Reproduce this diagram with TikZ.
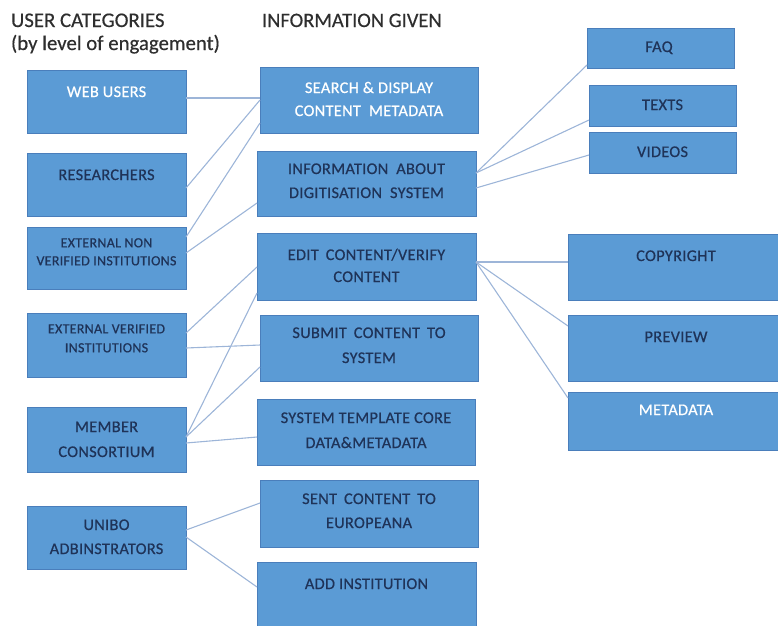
\documentclass[tikz,border=0pt]{standalone}
\usepackage{fontspec}
\setmainfont{Carlito}
\newfontfamily\boxfont[FakeBold=0.6, LetterSpace=2]{Carlito}
\newfontfamily\headfont[FakeBold=0.4]{Carlito}
\definecolor{boxfill}{HTML}{5B9BD5}
\definecolor{boxedge}{HTML}{4A7EBB}
\definecolor{linkc}{HTML}{9DB5D8}
\definecolor{darktxt}{HTML}{1F3358}
\definecolor{headtxt}{HTML}{2E2E2E}
\begin{document}
\begin{tikzpicture}[x=1pt,y=-1pt,
  box/.style={rectangle, draw=boxedge, fill=boxfill, line width=1pt, inner sep=0pt, outer sep=0pt},
  link/.style={draw=linkc, line width=1.1pt},
  lbl/.style={inner sep=0pt, outer sep=0pt, anchor=base, text=darktxt, font=\boxfont\fontsize{16.3}{18}\selectfont},
  wlbl/.style={lbl, text=white},
  slbl/.style={lbl, font=\boxfont\fontsize{14}{16}\selectfont},
  head/.style={inner sep=0pt, outer sep=0pt, anchor=base west, text=headtxt, font=\headfont\fontsize{20.8}{24}\selectfont}]
\useasboundingbox (0,0) rectangle (778,625);

% headers
\node[head] (h1) at (11,27) {USER CATEGORIES};
\node[head] (h2) at (11,50) {(by level of engagement)};
\node[head, font=\headfont\fontsize{20.5}{22}\selectfont] (h3) at (262,27) {INFORMATION GIVEN};

% left column
\node[box, minimum width=159pt, minimum height=63pt] (web) at (106.5,101.5) {};
\node[box, minimum width=159pt, minimum height=63pt] (res) at (106.5,184.5) {};
\node[box, minimum width=159pt, minimum height=62pt] (extnon) at (106.5,258) {};
\node[box, minimum width=159pt, minimum height=64pt] (extver) at (106.5,345) {};
\node[box, minimum width=159pt, minimum height=65pt] (member) at (106.5,439.5) {};
\node[box, minimum width=159pt, minimum height=63pt] (unibo) at (106.5,537.5) {};

% middle column
\node[box, minimum width=218pt, minimum height=66pt] (search) at (369,100) {};
\node[box, minimum width=219pt, minimum height=65pt] (info) at (366.5,183.5) {};
\node[box, minimum width=219pt, minimum height=67pt] (edit) at (366.5,266.5) {};
\node[box, minimum width=218pt, minimum height=66pt] (submit) at (369,348) {};
\node[box, minimum width=218pt, minimum height=66pt] (systpl) at (366,432) {};
\node[box, minimum width=218pt, minimum height=67pt] (sent) at (369,513.5) {};
\node[box, minimum width=219pt, minimum height=70pt] (add) at (366.5,597) {};

% right column
\node[box, minimum width=147pt, minimum height=40pt] (faq) at (660.5,48) {};
\node[box, minimum width=147pt, minimum height=41pt] (texts) at (662.5,105.5) {};
\node[box, minimum width=147pt, minimum height=41pt] (videos) at (662.5,152.5) {};
\node[box, minimum width=217pt, minimum height=66pt] (copyright) at (676.5,267) {};
\node[box, minimum width=217pt, minimum height=66pt] (preview) at (676.5,348) {};
\node[box, minimum width=217pt, minimum height=58pt] (metadata) at (676.5,421) {};

% labels
\node[wlbl] (tweb) at (106.5,97) {WEB USERS};
\node[lbl] (tres) at (106.5,180) {RESEARCHERS};
\node[slbl] (textnonA) at (106.5,247.3) {EXTERNAL NON};
\node[slbl] (textnonB) at (106.5,265.3) {VERIFIED INSTITUTIONS};
\node[slbl] (textverA) at (106.5,333.3) {EXTERNAL VERIFIED};
\node[slbl] (textverB) at (106.5,352.3) {INSTITUTIONS};
\node[lbl] (tmemA) at (106.5,432) {MEMBER};
\node[lbl] (tmemB) at (106.5,457) {CONSORTIUM};
\node[lbl] (tuniA) at (106.5,530) {UNIBO};
\node[lbl] (tuniB) at (106.5,554) {ADBINSTRATORS};

\node[wlbl] (tsearchA) at (369,93) {SEARCH \& DISPLAY};
\node[wlbl] (tsearchB) at (369,116) {CONTENT\hspace{4pt} METADATA};
\node[lbl] (tinfoA) at (366.5,174) {INFORMATION\hspace{4pt} ABOUT};
\node[lbl] (tinfoB) at (366.5,198) {DIGITISATION\hspace{4pt} SYSTEM};
\node[lbl] (teditA) at (366.5,260) {EDIT\hspace{3pt} CONTENT/VERIFY};
\node[lbl] (teditB) at (366.5,282) {CONTENT};
\node[lbl] (tsubA) at (369,338) {SUBMIT\hspace{3pt} CONTENT\hspace{3pt} TO};
\node[lbl] (tsubB) at (369,363) {SYSTEM};
\node[lbl] (tsysA) at (366,423) {SYSTEM TEMPLATE CORE};
\node[lbl] (tsysB) at (366,448) {DATA\&METADATA};
\node[lbl] (tsentA) at (369,504) {SENT\hspace{3pt} CONTENT\hspace{3pt} TO};
\node[lbl] (tsentB) at (369,528) {EUROPEANA};
\node[lbl] (tadd) at (366.5,589) {ADD INSTITUTION};

\node[lbl] (tfaq) at (659,52) {FAQ};
\node[lbl] (ttexts) at (662.5,110) {TEXTS};
\node[lbl] (tvideos) at (662.5,157) {VIDEOS};
\node[lbl] (tcopy) at (676,261) {COPYRIGHT};
\node[lbl] (tprev) at (676,342) {PREVIEW};
\node[wlbl] (tmeta) at (676,415) {METADATA};

% connectors: users -> information
\draw[link] ([yshift=-28pt]web.north east) -- ([yshift=-31pt]search.north west);
\draw[link] ([yshift=-35pt]res.north east) -- ([yshift=-33pt]search.north west);
\draw[link] ([yshift=-10pt]extnon.north east) -- ([yshift=-56pt]search.north west);
\draw[link] ([yshift=-26pt]extnon.north east) -- ([yshift=-52pt]info.north west);
\draw[link] ([yshift=-20pt]extver.north east) -- ([yshift=-34pt]edit.north west);
\draw[link] ([yshift=-35pt]extver.north east) -- ([yshift=-30pt]submit.north west);
\draw[link] ([yshift=-30pt]member.north east) -- ([yshift=-60pt]edit.north west);
\draw[link] ([yshift=-30pt]member.north east) -- ([yshift=-52pt]submit.north west);
\draw[link] ([yshift=-36pt]member.north east) -- ([yshift=-38pt]systpl.north west);
\draw[link] ([yshift=-24pt]unibo.north east) -- ([yshift=-23pt]sent.north west);
\draw[link] ([yshift=-31pt]unibo.north east) -- ([yshift=-25pt]add.north west);

% connectors: information -> details
\draw[link] ([yshift=-22pt]info.north east) -- ([yshift=-37pt]faq.north west);
\draw[link] ([yshift=-22pt]info.north east) -- ([yshift=-35pt]texts.north west);
\draw[link] ([yshift=-37pt]info.north east) -- ([yshift=-23pt]videos.north west);
\draw[link] ([yshift=-29pt]edit.north east) -- ([yshift=-28pt]copyright.north west);
\draw[link] ([yshift=-29pt]edit.north east) -- ([yshift=-11pt]preview.north west);
\draw[link] ([yshift=-29pt]edit.north east) -- ([yshift=-6pt]metadata.north west);
\end{tikzpicture}
\end{document}
